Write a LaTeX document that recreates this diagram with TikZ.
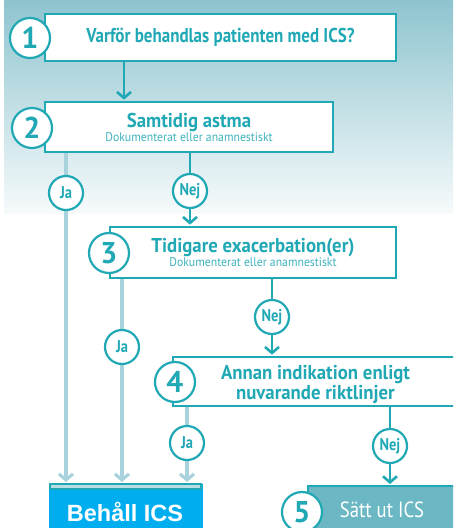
\documentclass[tikz,border=0pt]{standalone}
\usepackage{fontspec}
\setmainfont{PT Sans}
\newfontfamily\cond[FakeStretch=0.85]{PT Sans}
\newfontfamily\condw[FakeStretch=0.94]{PT Sans}
\newfontfamily\arialf{Liberation Sans}
\usetikzlibrary{arrows.meta,calc}
\definecolor{tealc}{HTML}{20A8B5}
\definecolor{subc}{HTML}{3DB2BD}
\definecolor{lightc}{HTML}{A8D3DD}
\definecolor{bgtop}{HTML}{8EC4CF}
\definecolor{bgbot}{HTML}{F6FAFB}
\definecolor{blueb}{HTML}{00AEEF}
\definecolor{sattc}{HTML}{6BB8C4}
\definecolor{stripc}{HTML}{B8DDE6}
\pgfdeclarelayer{back}
\pgfdeclarelayer{lines}
\pgfsetlayers{back,lines,main}
\newcommand\titlef{\cond\bfseries\fontsize{20}{22}\selectfont}
\newcommand\titlew{\condw\bfseries\fontsize{20}{22}\selectfont}
\newcommand\subf{\condw\mdseries\fontsize{12.5}{13}\selectfont\color{subc}}
\begin{document}
\begin{tikzpicture}[x=1pt,y=-1pt,
  box/.style={draw=tealc, line width=2.7pt, fill=white, rectangle, inner sep=0pt, align=center, text=tealc, font=\titlew},
  numc/.style={circle, draw=tealc, line width=2.2pt, fill=white, minimum size=40pt, inner sep=0pt, text=tealc, font=\bfseries\fontsize{30}{30}\selectfont},
  yn/.style={circle, draw=tealc, line width=2.2pt, fill=white, minimum size=34pt, inner sep=0pt, text=tealc, font=\cond\bfseries\fontsize{17}{17}\selectfont},
  tline/.style={draw=tealc, line width=2.6pt},
  lline/.style={draw=lightc, line width=3.2pt},
  tarr/.style={tline, -{Straight Barb[length=6pt,width=14pt]}, shorten >=1pt},
  larr/.style={lline, -{Straight Barb[length=6pt,width=14pt]}, shorten >=2pt}
]
\useasboundingbox (0,0) rectangle (453,528);
\clip (0,0) rectangle (453,528);
\begin{pgfonlayer}{back}
\shade[top color=bgtop, bottom color=bgbot] (4,0) rectangle (453,213);
\end{pgfonlayer}

% boxes
\node[box, minimum width=351pt, minimum height=47pt, font=\titlef] (box1) at (220.5,37.5) {Varför behandlas patienten med ICS?};
\node[numc] (n1) at (30,38) {1};

\node[box, minimum width=288pt, minimum height=50pt] (box2) at (189,127) {Samtidig astma\\[-8pt]{\subf Dokumenterat eller anamnestiskt}};
\node[numc] (n2) at (32,128) {2};

\node[box, minimum width=286pt, minimum height=51pt] (box3) at (253,252.5) {Tidigare exacerbation(er)\\[-8pt]{\subf Dokumenterat eller anamnestiskt}};
\node[numc] (n3) at (109,253) {3};

\node[box, minimum width=285pt, minimum height=49pt] (box4) at (315.5,381.5) {\rule{0pt}{21pt}Annan indikation enligt\\[-2pt]nuvarande riktlinjer};
\node[numc] (n4) at (175,382) {4};

% end boxes
\node[fill=blueb, anchor=north west, minimum width=154pt, minimum height=60pt, inner sep=0pt] (behall) at (48.5,484) {};
\draw[draw=tealc, line width=1.2pt, fill=stripc] (50,484) rectangle (201,489);
\node[text=white, font=\arialf\bfseries\fontsize{23.5}{24}\selectfont] (behalltxt) at (125,512) {Behåll ICS};

\node[draw=tealc, line width=2.4pt, fill=sattc, anchor=north west, minimum width=170pt, minimum height=60pt, inner sep=0pt] (satt) at (307,485) {};
\node[numc] (n5) at (302,512) {5};
\node[text=white, font=\cond\fontsize{22}{22}\selectfont] (satttxt) at (382,510) {Sätt ut ICS};

% yes/no
\node[yn] (ja1) at (66,193) {Ja};
\node[yn] (nej1) at (190,191) {Nej};
\node[yn] (ja2) at (122,347) {Ja};
\node[yn] (nej2) at (272,317) {Nej};
\node[yn] (ja3) at (187,443) {Ja};
\node[yn] (nej3) at (390,446) {Nej};
\coordinate (c12) at (124,0);

\begin{pgfonlayer}{lines}
\draw[tarr] (box1.south -| c12) -- (box2.north -| c12);
\draw[lline] (box2.south -| ja1) -- (ja1.center);
\draw[larr] (ja1.center) -- (ja1 |- behall.north);
\draw[tline] (box2.south -| nej1) -- (nej1.center);
\draw[tarr] (nej1.center) -- (nej1 |- box3.north);
\draw[lline] (box3.south -| ja2) -- (ja2.center);
\draw[larr] (ja2.center) -- (ja2 |- behall.north);
\draw[tline] (box3.south -| nej2) -- (nej2.center);
\draw[tarr] (nej2.center) -- (nej2 |- box4.north);
\draw[lline] (box4.south -| ja3) -- (ja3.center);
\draw[larr] (ja3.center) -- (ja3 |- behall.north);
\draw[tline] (box4.south -| nej3) -- (nej3.center);
\draw[tarr] (nej3.center) -- (nej3 |- satt.north);
\end{pgfonlayer}
\end{tikzpicture}
\end{document}
